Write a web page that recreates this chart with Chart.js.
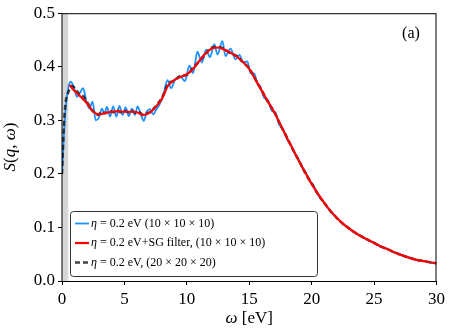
<!DOCTYPE html>
<html>
<head>
<meta charset="utf-8">
<script src="https://cdn.jsdelivr.net/npm/chart.js@4.4.1/dist/chart.umd.min.js"></script>
<style>
  html, body { margin: 0; padding: 0; background: #fff; }
  #wrap { width: 449px; height: 335px; }
</style>
</head>
<body>
<div id="wrap"><canvas id="chart" width="449" height="335"></canvas></div>
<script>
// eta = 0.2 eV, 10x10x10 k-mesh (raw, oscillating)
const blueX = [0, 0.25, 0.5, 0.7, 0.95, 1.2, 1.45, 1.7, 1.95, 2.2, 2.45, 2.7, 2.95, 3.2, 3.4, 3.6, 3.85, 4.1, 4.35, 4.6,
  4.85, 5.1, 5.35, 5.6, 5.85, 6.05, 6.3, 6.55, 6.8, 7.05, 7.3, 7.55, 7.8, 8.1, 8.45, 8.74, 9.1, 9.5, 9.85, 10.2,
  10.5, 10.85, 11.2, 11.55, 11.85, 12.2, 12.45, 12.85, 13.1, 13.5, 13.9, 14.2, 14.55, 14.85, 15.1, 15.4, 15.65, 15.9, 16.2, 16.5,
  16.8, 17.1, 17.4, 17.7, 18.0, 18.3, 18.6, 18.9, 19.2, 19.5, 19.8, 20.1, 20.5, 21.0, 21.5, 22.0, 22.5, 23.0, 23.5, 24.0,
  24.5, 25.0, 25.5, 26.0, 26.5, 27.0, 27.5, 28.0, 28.5, 29.0, 29.5, 30.0]
const blueY = [0.20, 0.31, 0.36, 0.372, 0.362, 0.344, 0.352, 0.360, 0.335, 0.322, 0.335, 0.300, 0.305, 0.322, 0.312, 0.325, 0.307, 0.326, 0.307, 0.327,
  0.310, 0.324, 0.308, 0.322, 0.310, 0.326, 0.312, 0.299, 0.317, 0.321, 0.311, 0.320, 0.329, 0.345, 0.375, 0.360, 0.378, 0.381, 0.373, 0.402,
  0.388, 0.428, 0.408, 0.432, 0.418, 0.442, 0.423, 0.448, 0.420, 0.434, 0.414, 0.422, 0.408, 0.410, 0.388, 0.387, 0.368, 0.362, 0.342, 0.338,
  0.318, 0.314, 0.292, 0.284, 0.266, 0.256, 0.240, 0.230, 0.214, 0.204, 0.188, 0.180, 0.161, 0.147, 0.130, 0.119, 0.106, 0.099, 0.089, 0.084,
  0.076, 0.072, 0.064, 0.061, 0.054, 0.051, 0.045, 0.043, 0.038, 0.037, 0.034, 0.033]

// eta = 0.2 eV + Savitzky-Golay filter, 10x10x10
const redX = [0.6, 1.0, 1.5, 2.0, 2.5, 3.0, 3.5, 4.0, 4.5, 5.0, 5.5, 6.0, 6.5, 7.0, 7.5, 8.0, 8.5, 9.0, 9.5, 10.0,
  10.5, 11.0, 11.5, 12.0, 12.5, 13.0, 13.5, 14.0, 14.5, 15.0, 15.5, 16.0, 16.5, 17.0, 17.5, 18.0, 18.5, 19.0, 19.5, 20.0,
  20.5, 21.0, 21.5, 22.0, 22.5, 23.0, 23.5, 24.0, 24.5, 25.0, 25.5, 26.0, 26.5, 27.0, 27.5, 28.0, 28.5, 29.0, 29.5, 30.0]
const redY = [0.366, 0.355, 0.344, 0.332, 0.316, 0.311, 0.314, 0.316, 0.317, 0.316, 0.316, 0.315, 0.310, 0.314, 0.325, 0.340, 0.365, 0.375, 0.381, 0.386,
  0.396, 0.411, 0.425, 0.434, 0.436, 0.432, 0.426, 0.419, 0.409, 0.396, 0.376, 0.355, 0.335, 0.315, 0.292, 0.268, 0.246, 0.223, 0.202, 0.181,
  0.163, 0.146, 0.131, 0.118, 0.107, 0.098, 0.090, 0.083, 0.077, 0.071, 0.065, 0.060, 0.055, 0.050, 0.046, 0.042, 0.039, 0.037, 0.035, 0.033]

// eta = 0.2 eV, 20x20x20 k-mesh
const blackX = [0, 0.15, 0.3, 0.5, 0.8, 1.1, 1.4, 1.7, 2.0, 2.3, 2.6, 2.9, 3.2, 3.5, 3.8, 4.1, 4.4, 4.7, 5.0, 5.3,
  5.6, 5.9, 6.2, 6.5, 6.8, 7.1, 7.5, 8.0, 8.5, 9.0, 9.5, 10.0, 10.5, 11.0, 11.5, 12.0, 12.5, 13.0, 13.5, 14.0,
  14.5, 15.0, 15.5, 16.0, 16.5, 17.0, 17.5, 18.0, 18.5, 19.0, 19.5, 20.0, 20.5, 21.0, 21.5, 22.0, 22.5, 23.0, 23.5, 24.0,
  24.5, 25.0, 25.5, 26.0, 26.5, 27.0, 27.5, 28.0, 28.5, 29.0, 29.5, 30.0]
const blackY = [0.20, 0.29, 0.335, 0.352, 0.364, 0.358, 0.348, 0.345, 0.335, 0.322, 0.315, 0.310, 0.316, 0.313, 0.318, 0.315, 0.319, 0.315, 0.318, 0.315,
  0.318, 0.314, 0.315, 0.310, 0.313, 0.316, 0.326, 0.342, 0.368, 0.374, 0.383, 0.385, 0.398, 0.410, 0.424, 0.436, 0.437, 0.433, 0.425, 0.420,
  0.408, 0.397, 0.376, 0.356, 0.334, 0.316, 0.291, 0.269, 0.245, 0.224, 0.201, 0.182, 0.162, 0.146, 0.131, 0.118, 0.107, 0.098, 0.090, 0.083,
  0.077, 0.071, 0.065, 0.060, 0.055, 0.050, 0.046, 0.042, 0.039, 0.037, 0.035, 0.033]

const shadeRange = [0, 0.5]   // shaded region near omega = 0
const xTicks = [0, 5, 10, 15, 20, 25, 30]
const yTicks = [0.0, 0.1, 0.2, 0.3, 0.4, 0.5]
const legendLabels = [
  ['η', ' = 0.2 eV (10 × 10 × 10)'],
  ['η', ' = 0.2 eV+SG filter, (10 × 10 × 10)'],
  ['η', ' = 0.2 eV, (20 × 20 × 20)']
]

const SERIF = '"Liberation Serif", "DejaVu Serif", serif'
const toPts = (xs, ys) => xs.map((x, i) => ({ x: x, y: ys[i] }))

// draw text pieces [text, italic] in sequence, centered on (cx, cy)
function drawPieces(ctx, pieces, size, cx, cy) {
  let total = 0
  const widths = pieces.map(([t, it]) => {
    ctx.font = (it ? 'italic ' : '') + size + 'px ' + SERIF
    const w = ctx.measureText(t).width
    total += w
    return w
  })
  let x = cx - total / 2
  pieces.forEach(([t, it], i) => {
    ctx.font = (it ? 'italic ' : '') + size + 'px ' + SERIF
    ctx.fillText(t, x, cy)
    x += widths[i]
  })
}

const decorPlugin = {
  id: 'decor',
  beforeDatasetsDraw(chart) {
    const { ctx, chartArea, scales } = chart
    const x0 = scales.x.getPixelForValue(shadeRange[0])
    const x1 = scales.x.getPixelForValue(shadeRange[1])
    ctx.save()
    ctx.fillStyle = '#d6d6d6'
    ctx.fillRect(x0, chartArea.top, x1 - x0, chartArea.bottom - chartArea.top)
    ctx.restore()
  },
  afterDatasetsDraw(chart) {
    const { ctx, chartArea } = chart
    ctx.save()
    // frame (top/right spines)
    ctx.strokeStyle = '#000'
    ctx.lineWidth = 1
    ctx.strokeRect(chartArea.left, chartArea.top + 0.5, chartArea.right - chartArea.left - 0.5, chartArea.bottom - chartArea.top)

    // legend box
    const bx = 70.5, by = 211.5, bw = 247, bh = 65
    ctx.beginPath()
    ctx.roundRect(bx, by, bw, bh, 3)
    ctx.fillStyle = 'rgba(255,255,255,0.85)'
    ctx.fill()
    ctx.strokeStyle = '#333'
    ctx.stroke()

    const rowY = [223.5, 243, 262.5]
    chart.data.datasets.forEach((ds, i) => {
      ctx.beginPath()
      ctx.strokeStyle = ds.borderColor
      ctx.lineWidth = ds.borderWidth
      ctx.setLineDash(ds.borderDash || [])
      ctx.moveTo(75, rowY[i])
      ctx.lineTo(89, rowY[i])
      ctx.stroke()
      ctx.setLineDash([])
      ctx.fillStyle = '#000'
      ctx.textBaseline = 'middle'
      ctx.textAlign = 'left'
      let x = 91
      ctx.font = 'italic 12px ' + SERIF
      ctx.fillText(legendLabels[i][0], x, rowY[i])
      x += ctx.measureText(legendLabels[i][0]).width
      ctx.font = '12px ' + SERIF
      ctx.fillText(legendLabels[i][1], x, rowY[i])
    })

    // panel label
    ctx.fillStyle = '#000'
    ctx.font = '16px ' + SERIF
    ctx.textAlign = 'center'
    ctx.textBaseline = 'middle'
    ctx.fillText('(a)', 411, 34)

    // axis titles
    ctx.textAlign = 'left'
    ctx.textBaseline = 'alphabetic'
    drawPieces(ctx, [['ω', true], [' [eV]', false]], 17, (chartArea.left + chartArea.right) / 2, 323)
    ctx.translate(15, (chartArea.top + chartArea.bottom) / 2)
    ctx.rotate(-Math.PI / 2)
    drawPieces(ctx, [['S', true], ['(', false], ['q', true], [', ', false], ['ω', true], [')', false]], 17, 0, 0)
    ctx.restore()
  }
}

new Chart(document.getElementById('chart'), {
  type: 'line',
  data: {
    datasets: [
      {
        label: 'blue',
        data: toPts(blueX, blueY),
        borderColor: '#1e90ff',
        borderWidth: 1.8,
        pointRadius: 0,
        order: 3,
        cubicInterpolationMode: 'monotone'
      },
      {
        label: 'red',
        data: toPts(redX, redY),
        borderColor: '#ff0000',
        borderWidth: 2.2,
        pointRadius: 0,
        order: 1,
        cubicInterpolationMode: 'monotone'
      },
      {
        label: 'black',
        data: toPts(blackX, blackY),
        borderColor: 'rgba(20,20,20,0.8)',
        borderWidth: 2.5,
        borderDash: [5, 3],
        pointRadius: 0,
        order: 2,
        cubicInterpolationMode: 'monotone'
      }
    ]
  },
  options: {
    responsive: false,
    animation: false,
    layout: { padding: { top: 6, right: 10, left: 0, bottom: 0 } },
    plugins: { legend: { display: false }, tooltip: { enabled: false } },
    scales: {
      x: {
        type: 'linear',
        min: 0,
        max: 30,
        afterFit: (s) => { s.height = 54 },
        afterBuildTicks: (s) => { s.ticks = xTicks.map(v => ({ value: v })) },
        ticks: {
          color: '#000',
          padding: 4,
          maxRotation: 0,
          font: { family: SERIF, size: 17 },
          callback: (v) => String(v)
        },
        grid: { drawOnChartArea: false, drawTicks: true, tickLength: 4, color: '#000' },
        border: { color: '#000', width: 1 }
      },
      y: {
        min: 0,
        max: 0.5,
        afterFit: (s) => { s.width = 62 },
        afterBuildTicks: (s) => { s.ticks = yTicks.map(v => ({ value: v })) },
        ticks: {
          color: '#000',
          padding: 3,
          font: { family: SERIF, size: 17 },
          callback: (v) => v.toFixed(1)
        },
        grid: { drawOnChartArea: false, drawTicks: true, tickLength: 4, color: '#000' },
        border: { color: '#000', width: 1 }
      }
    }
  },
  plugins: [decorPlugin]
})
</script>
</body>
</html>
